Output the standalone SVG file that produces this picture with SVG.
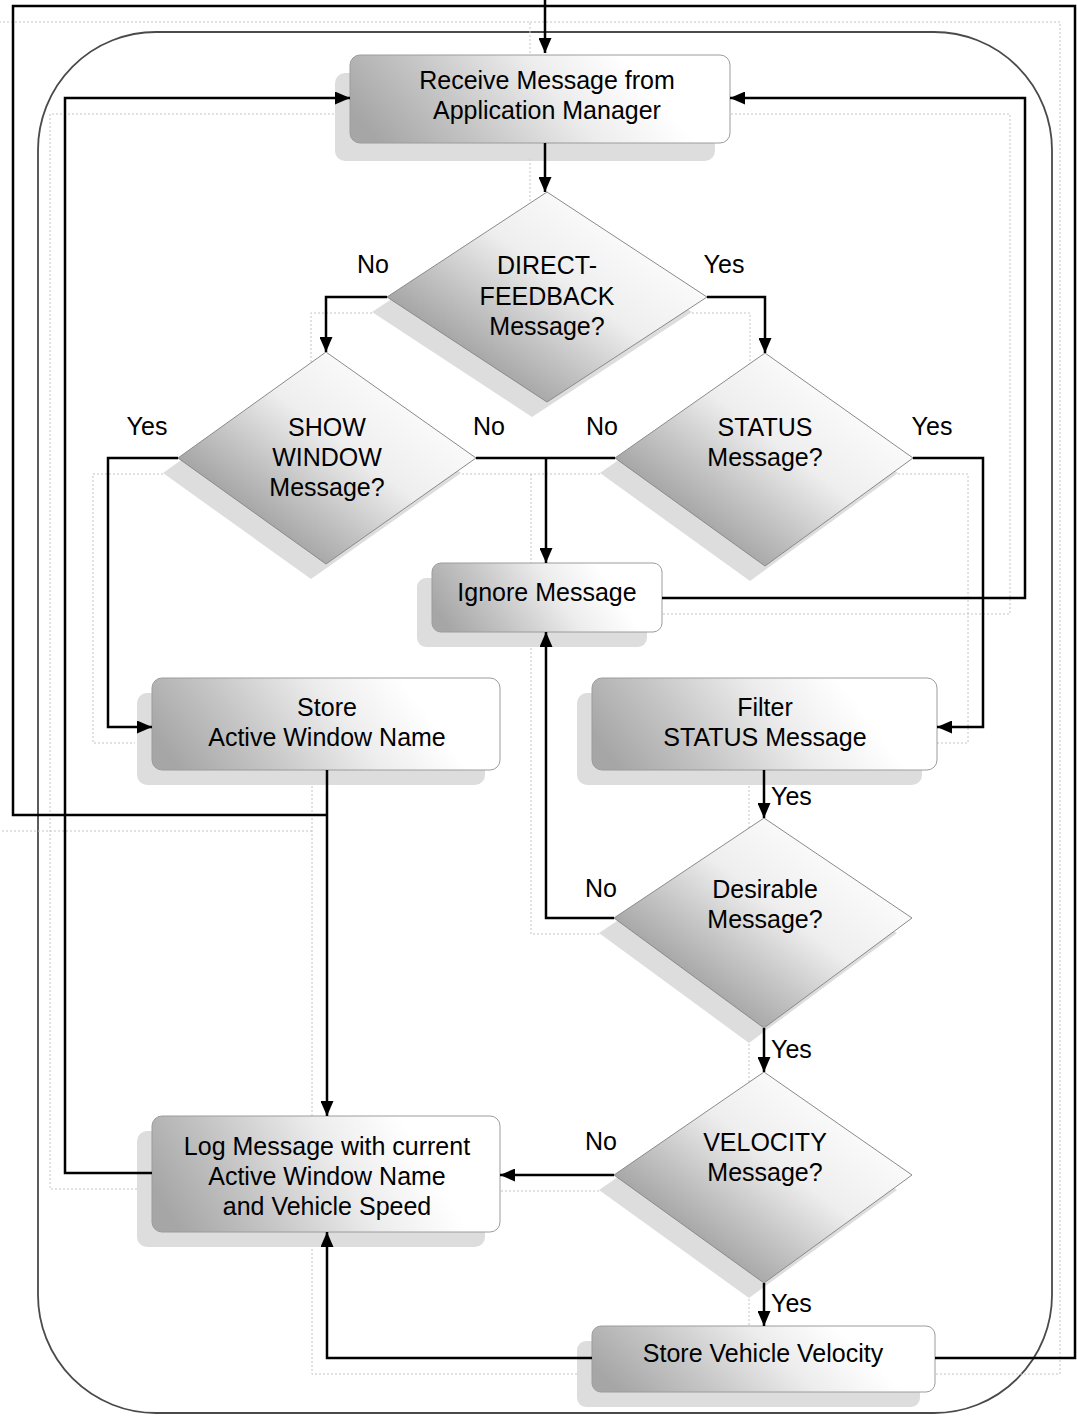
<svg xmlns="http://www.w3.org/2000/svg" width="1077" height="1417" viewBox="0 0 1077 1417">
<defs>
<linearGradient id="gBox" x1="0" y1="0.6" x2="1" y2="0.4">
<stop offset="0" stop-color="#a6a6a6"/>
<stop offset="0.25" stop-color="#c4c4c4"/>
<stop offset="0.55" stop-color="#ececec"/>
<stop offset="0.8" stop-color="#ffffff"/>
</linearGradient>
<linearGradient id="gDia" x1="0.1" y1="0.85" x2="0.85" y2="0.15">
<stop offset="0" stop-color="#8c8c8c"/>
<stop offset="0.35" stop-color="#c4c4c4"/>
<stop offset="0.6" stop-color="#eeeeee"/>
<stop offset="1" stop-color="#ffffff"/>
</linearGradient>
<marker id="ah" markerUnits="userSpaceOnUse" markerWidth="15" markerHeight="13" viewBox="0 0 15 13" refX="15" refY="6.5" orient="auto">
<path d="M0,0 L15,6.5 L0,13 z" fill="#000"/>
</marker>
</defs>
<style>
.conn{fill:none;stroke:#000;stroke-width:2.5}
.arr{marker-end:url(#ah)}
.sh{fill:none;stroke:#c4c4c4;stroke-width:1;stroke-dasharray:2 2}
.box{fill:url(#gBox);stroke:#9c9c9c;stroke-width:1}
.dia{fill:url(#gDia);stroke:#8a8a8a;stroke-width:1}
.shadow{fill:#d2d2d2;opacity:0.75}
.frame{fill:none;stroke:#4a4a4a;stroke-width:1.8}
text{font-family:"Liberation Sans",Arial,sans-serif;font-size:25px;fill:#000}
.c{text-anchor:middle}
</style>
<rect fill="#fff" x="0" y="0" width="1077" height="1417"/>

<rect id="container" class="frame" x="38" y="32" width="1014" height="1381" rx="118" ry="118"/>

<g id="connector-shadows" transform="translate(-15,16)">
<path class="sh" d="M327,815 H13 V6 H545 V50"/>
<path class="sh" d="M935,1358 H1075 V6 H545"/>
<path class="sh" d="M545,143 V190"/>
<path class="sh" d="M387,297 H326 V352"/>
<path class="sh" d="M707,297 H765 V353"/>
<path class="sh" d="M477,458 H615 M546,458 V561"/>
<path class="sh" d="M178,458 H108 V727 H150"/>
<path class="sh" d="M913,458 H983 V727 H937"/>
<path class="sh" d="M662,598 H1025 V98 H730"/>
<path class="sh" d="M327,770 V1116"/>
<path class="sh" d="M764,770 V818"/>
<path class="sh" d="M614,918 H546 V632"/>
<path class="sh" d="M764,1028 V1072"/>
<path class="sh" d="M614,1175 H500"/>
<path class="sh" d="M764,1283 V1326"/>
<path class="sh" d="M592,1358 H327 V1232"/>
<path class="sh" d="M152,1173 H65 V98 H350"/>
</g>

<g id="n-receive">
<rect class="shadow" x="335" y="73" width="380" height="88" rx="10"/>
<rect class="box" x="350" y="55" width="380" height="88" rx="10"/>
<text class="c" x="547" y="89">Receive Message from</text>
<text class="c" x="547" y="119">Application Manager</text>
</g>

<g id="n-direct">
<polygon class="shadow" points="532,207 692,312 532,417 372,312"/>
<polygon class="dia" points="547,192 707,297 547,402 387,297"/>
<text class="c" x="547" y="274">DIRECT-</text>
<text class="c" x="547" y="305">FEEDBACK</text>
<text class="c" x="547" y="335">Message?</text>
</g>

<g id="n-showwindow">
<polygon class="shadow" points="311,367 461,473 311,579 163,473"/>
<polygon class="dia" points="326,352 476,458 326,564 178,458"/>
<text class="c" x="327" y="436">SHOW</text>
<text class="c" x="327" y="466">WINDOW</text>
<text class="c" x="327" y="496">Message?</text>
</g>

<g id="n-status">
<polygon class="shadow" points="750,368 898,473 750,581 600,473"/>
<polygon class="dia" points="765,353 913,458 765,566 615,458"/>
<text class="c" x="765" y="436">STATUS</text>
<text class="c" x="765" y="466">Message?</text>
</g>

<g id="n-ignore">
<rect class="shadow" x="417" y="578" width="230" height="69" rx="9"/>
<rect class="box" x="432" y="563" width="230" height="69" rx="9"/>
<text class="c" x="547" y="601">Ignore Message</text>
</g>

<g id="n-storewindow">
<rect class="shadow" x="137" y="693" width="348" height="92" rx="10"/>
<rect class="box" x="152" y="678" width="348" height="92" rx="10"/>
<text class="c" x="327" y="716">Store</text>
<text class="c" x="327" y="746">Active Window Name</text>
</g>

<g id="n-filter">
<rect class="shadow" x="577" y="693" width="345" height="92" rx="10"/>
<rect class="box" x="592" y="678" width="345" height="92" rx="10"/>
<text class="c" x="765" y="716">Filter</text>
<text class="c" x="765" y="746">STATUS Message</text>
</g>

<g id="n-desirable">
<polygon class="shadow" points="749,833 897,933 749,1043 599,933"/>
<polygon class="dia" points="764,818 912,918 764,1028 614,918"/>
<text class="c" x="765" y="898">Desirable</text>
<text class="c" x="765" y="928">Message?</text>
</g>

<g id="n-velocity">
<polygon class="shadow" points="749,1087 897,1190 749,1298 599,1190"/>
<polygon class="dia" points="764,1072 912,1175 764,1283 614,1175"/>
<text class="c" x="765" y="1151">VELOCITY</text>
<text class="c" x="765" y="1181">Message?</text>
</g>

<g id="n-log">
<rect class="shadow" x="137" y="1131" width="348" height="116" rx="10"/>
<rect class="box" x="152" y="1116" width="348" height="116" rx="10"/>
<text class="c" x="327" y="1155">Log Message with current</text>
<text class="c" x="327" y="1185">Active Window Name</text>
<text class="c" x="327" y="1215">and Vehicle Speed</text>
</g>

<g id="n-storevelocity">
<rect class="shadow" x="577" y="1341" width="343" height="66" rx="9"/>
<rect class="box" x="592" y="1326" width="343" height="66" rx="9"/>
<text class="c" x="763" y="1362">Store Vehicle Velocity</text>
</g>

<g id="connectors">
<path class="conn" d="M545,0 V6"/>
<path class="conn arr" d="M327,815 H13 V6 H545 V53"/>
<path class="conn" d="M935,1358 H1075 V6 H545"/>
<path class="conn arr" d="M545,143 V192"/>
<path class="conn arr" d="M387,297 H326 V352"/>
<path class="conn arr" d="M707,297 H765 V353"/>
<path class="conn" d="M476,458 H615"/>
<path class="conn arr" d="M546,458 V563"/>
<path class="conn arr" d="M178,458 H108 V727 H152"/>
<path class="conn arr" d="M913,458 H983 V727 H937"/>
<path class="conn arr" d="M662,598 H1025 V98 H730"/>
<path class="conn arr" d="M327,770 V1116"/>
<path class="conn arr" d="M764,770 V818"/>
<path class="conn arr" d="M614,918 H546 V632"/>
<path class="conn arr" d="M764,1028 V1072"/>
<path class="conn arr" d="M614,1175 H500"/>
<path class="conn arr" d="M764,1283 V1326"/>
<path class="conn arr" d="M592,1358 H327 V1232"/>
<path class="conn arr" d="M152,1173 H65 V98 H350"/>
</g>

<g id="labels">
<text class="c" x="373" y="273">No</text>
<text class="c" x="724" y="273">Yes</text>
<text class="c" x="147" y="435">Yes</text>
<text class="c" x="489" y="435">No</text>
<text class="c" x="602" y="435">No</text>
<text class="c" x="932" y="435">Yes</text>
<text x="771" y="805">Yes</text>
<text class="c" x="601" y="897">No</text>
<text x="771" y="1058">Yes</text>
<text class="c" x="601" y="1150">No</text>
<text x="771" y="1312">Yes</text>
</g>
</svg>
